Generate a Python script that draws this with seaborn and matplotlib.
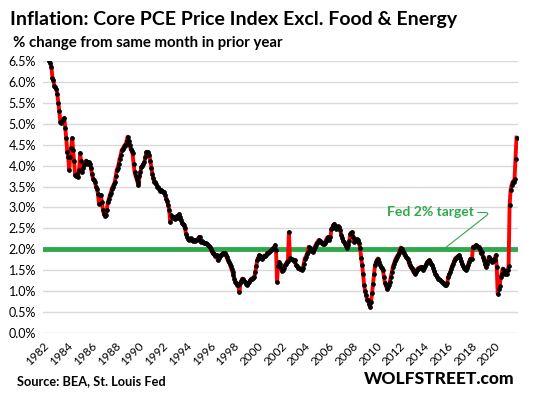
import numpy as np
import pandas as pd
import matplotlib
matplotlib.use("Agg")
import matplotlib.pyplot as plt
import seaborn as sns

# --- Core PCE ex food & energy, % change y/y, monthly Jan 1982 - Nov 2021 ---
pce_1980s = [
    7.4, 7.3, 7.1, 7.0, 6.9, 6.7, 6.5, 6.45, 6.36, 6.1, 6.05, 5.9,        # 1982
    5.88, 5.84, 5.7, 5.5, 5.3, 5.05, 5.02, 5.06, 5.1, 5.14, 4.9, 4.65,    # 1983
    4.33, 4.2, 3.89, 4.2, 4.41, 4.66, 4.37, 4.1, 3.77, 3.75, 3.8, 3.73,   # 1984
    3.9, 4.3, 4.1, 3.85, 3.95, 4.01, 4.05, 4.12, 4.09, 4.05, 4.08, 4.05,  # 1985
    3.95, 3.8, 3.69, 3.65, 3.61, 3.5, 3.45, 3.33, 3.09, 3.3, 3.29, 3.13,  # 1986
    2.95, 2.85, 2.8, 2.81, 2.95, 3.13, 3.2, 3.29, 3.35, 3.45, 3.5, 3.55,  # 1987
    3.6, 3.75, 3.89, 3.95, 4.05, 4.17, 4.25, 4.37, 4.4, 4.45, 4.49, 4.5,  # 1988
    4.6, 4.69, 4.6, 4.49, 4.4, 4.35, 4.29, 4.05, 3.85, 3.75, 3.69, 3.6,   # 1989
]
pce_1990s = [
    3.53, 3.75, 3.85, 3.97, 4.0, 4.05, 4.09, 4.2, 4.33, 4.3, 4.32, 4.25,  # 1990
    4.1, 3.95, 3.8, 3.7, 3.61, 3.6, 3.55, 3.5, 3.49, 3.45, 3.4, 3.41,     # 1991
    3.4, 3.38, 3.37, 3.3, 3.21, 3.15, 3.05, 2.95, 2.65, 2.81, 2.78, 2.75, # 1992
    2.77, 2.72, 2.78, 2.8, 2.75, 2.84, 2.78, 2.69, 2.62, 2.6, 2.57, 2.5,  # 1993
    2.37, 2.3, 2.25, 2.22, 2.24, 2.26, 2.23, 2.2, 2.22, 2.2, 2.22, 2.22,  # 1994
    2.25, 2.29, 2.3, 2.17, 2.2, 2.18, 2.15, 2.14, 2.14, 2.12, 2.1, 2.08,  # 1995
    2.06, 2.0, 1.95, 1.9, 1.88, 1.85, 1.87, 1.86, 1.74, 1.8, 1.85, 1.86,  # 1996
    1.88, 1.9, 1.92, 1.9, 1.86, 1.82, 1.75, 1.7, 1.66, 1.6, 1.52, 1.46,   # 1997
    1.38, 1.3, 1.22, 1.2, 1.15, 1.14, 0.98, 1.2, 1.25, 1.3, 1.28, 1.24,   # 1998
    1.22, 1.18, 1.14, 1.2, 1.22, 1.26, 1.3, 1.28, 1.32, 1.34, 1.45, 1.6,  # 1999
]
pce_2000s = [
    1.74, 1.8, 1.86, 1.84, 1.8, 1.78, 1.82, 1.85, 1.84, 1.86, 1.9, 1.92,  # 2000
    1.94, 1.96, 1.98, 2.0, 2.02, 2.05, 2.1, 1.98, 1.22, 1.6, 1.7, 1.65,   # 2001
    1.55, 1.48, 1.5, 1.56, 1.62, 1.66, 1.7, 1.72, 2.41, 1.8, 1.78, 1.76,  # 2002
    1.74, 1.72, 1.74, 1.62, 1.6, 1.56, 1.55, 1.54, 1.52, 1.5, 1.55, 1.65, # 2003
    1.78, 1.82, 1.88, 1.94, 2.06, 2.02, 1.98, 1.96, 1.94, 2.0, 2.05, 2.1, # 2004
    2.15, 2.18, 2.22, 2.2, 2.17, 2.14, 2.12, 2.13, 2.14, 2.2, 2.25, 2.29, # 2005
    2.25, 2.22, 2.3, 2.49, 2.52, 2.58, 2.61, 2.55, 2.49, 2.5, 2.55, 2.53, # 2006
    2.45, 2.33, 2.28, 2.2, 2.17, 2.12, 2.08, 2.02, 2.1, 2.2, 2.37, 2.4,   # 2007
    2.41, 2.3, 2.17, 2.2, 2.22, 2.24, 2.22, 2.15, 2.02, 1.8, 1.62, 1.4,   # 2008
    1.14, 1.0, 0.9, 0.8, 0.78, 0.7, 0.62, 0.75, 0.95, 1.18, 1.4, 1.62,    # 2009
]
pce_2010s = [
    1.7, 1.75, 1.78, 1.7, 1.62, 1.58, 1.55, 1.5, 1.35, 1.2, 1.14, 1.06,   # 2010
    1.1, 1.15, 1.22, 1.35, 1.45, 1.58, 1.65, 1.72, 1.78, 1.82, 1.86, 1.9, # 2011
    1.98, 2.04, 2.0, 1.96, 1.9, 1.86, 1.82, 1.8, 1.78, 1.7, 1.62, 1.58,   # 2012
    1.55, 1.5, 1.45, 1.42, 1.45, 1.5, 1.54, 1.55, 1.56, 1.58, 1.58, 1.55, # 2013
    1.5, 1.55, 1.6, 1.66, 1.7, 1.72, 1.74, 1.7, 1.66, 1.62, 1.55, 1.48,   # 2014
    1.42, 1.38, 1.34, 1.3, 1.28, 1.26, 1.24, 1.22, 1.2, 1.18, 1.15, 1.14, # 2015
    1.2, 1.34, 1.4, 1.45, 1.54, 1.6, 1.66, 1.72, 1.78, 1.8, 1.82, 1.84,   # 2016
    1.86, 1.8, 1.72, 1.66, 1.6, 1.55, 1.52, 1.5, 1.55, 1.62, 1.7, 1.76,   # 2017
    1.76, 1.78, 2.06, 2.05, 2.08, 2.1, 2.08, 2.05, 2.06, 2.0, 1.9, 1.94,  # 2018
    1.82, 1.75, 1.66, 1.58, 1.65, 1.72, 1.82, 1.78, 1.74, 1.7, 1.72, 1.76, # 2019
]
pce_2020s = [
    1.74, 1.86, 1.58, 0.94, 1.06, 1.12, 1.34, 1.42, 1.54, 1.46, 1.42, 1.48, # 2020
    1.42, 1.5, 1.6, 3.05, 3.41, 3.53, 3.61, 3.62, 3.69, 4.17, 4.67,         # 2021 (thru Nov)
]

FED_TARGET = 2.0
Y_TICKS = np.arange(0, 6.51, 0.5)
X_TICKS = list(range(1982, 2021, 2))

values = pce_1980s + pce_1990s + pce_2000s + pce_2010s + pce_2020s
df = pd.DataFrame({"t": 1982 + np.arange(len(values)) / 12.0, "pce": values})

GREEN = "#2EA84A"

plt.rcParams["font.family"] = ["Lato", "DejaVu Sans"]
fig = plt.figure(figsize=(5.35, 3.94), dpi=100)
ax = fig.add_axes([43 / 535, 1 - 333 / 394, 475 / 535, 272 / 394])

ax.axhline(FED_TARGET, color=GREEN, lw=3.5, zorder=2)
sns.lineplot(data=df, x="t", y="pce", ax=ax, color="#FF0000", lw=2.8,
             marker="o", markersize=2.6, markerfacecolor="black",
             markeredgecolor="black", zorder=3)

ax.set_xlim(1982 - 0.5 / 12, 1982 + 479.5 / 12)
ax.set_ylim(0, 6.5)
ax.set_yticks(Y_TICKS)
ax.set_yticklabels([f"{v:.1f}%" for v in Y_TICKS], fontsize=9)
ax.set_xticks(X_TICKS)
ax.set_xticklabels([str(y) for y in X_TICKS], fontsize=8.5, rotation=45,
                   ha="right", rotation_mode="anchor")
ax.tick_params(length=0, pad=5)
ax.grid(axis="y", color="#D9D9D9", lw=1)
ax.set_axisbelow(True)
for s in ax.spines.values():
    s.set_visible(False)
ax.set_xlabel("")
ax.set_ylabel("")

# annotation for the target line: text, then a thin leader bending back down to the line
ax.annotate("Fed 2% target", xy=(2015.9, 2.05), xytext=(2010.9, 2.88),
            color=GREEN, fontsize=10, fontweight="bold", va="center", ha="left",
            arrowprops=dict(arrowstyle="-", color=GREEN, lw=0.8, shrinkA=1, shrinkB=0,
                            connectionstyle="angle,angleA=0,angleB=38,rad=6"))

fig.text(10 / 535, 1 - 20 / 394, "Inflation: Core PCE Price Index Excl. Food & Energy",
         fontsize=14, fontweight="bold", va="center", ha="left")
fig.text(13 / 535, 1 - 43 / 394, "% change from same month in prior year",
         fontsize=10.8, fontweight="bold", va="center", ha="left")
fig.text(17 / 535, 1 - 381 / 394, "Source: BEA, St. Louis Fed",
         fontsize=9.2, fontweight="bold", va="center", ha="left")
fig.text(515 / 535, 1 - 379 / 394, "WOLFSTREET.com",
         fontsize=12.5, fontweight="black", va="center", ha="right")

fig.savefig("out.png", dpi=100)
